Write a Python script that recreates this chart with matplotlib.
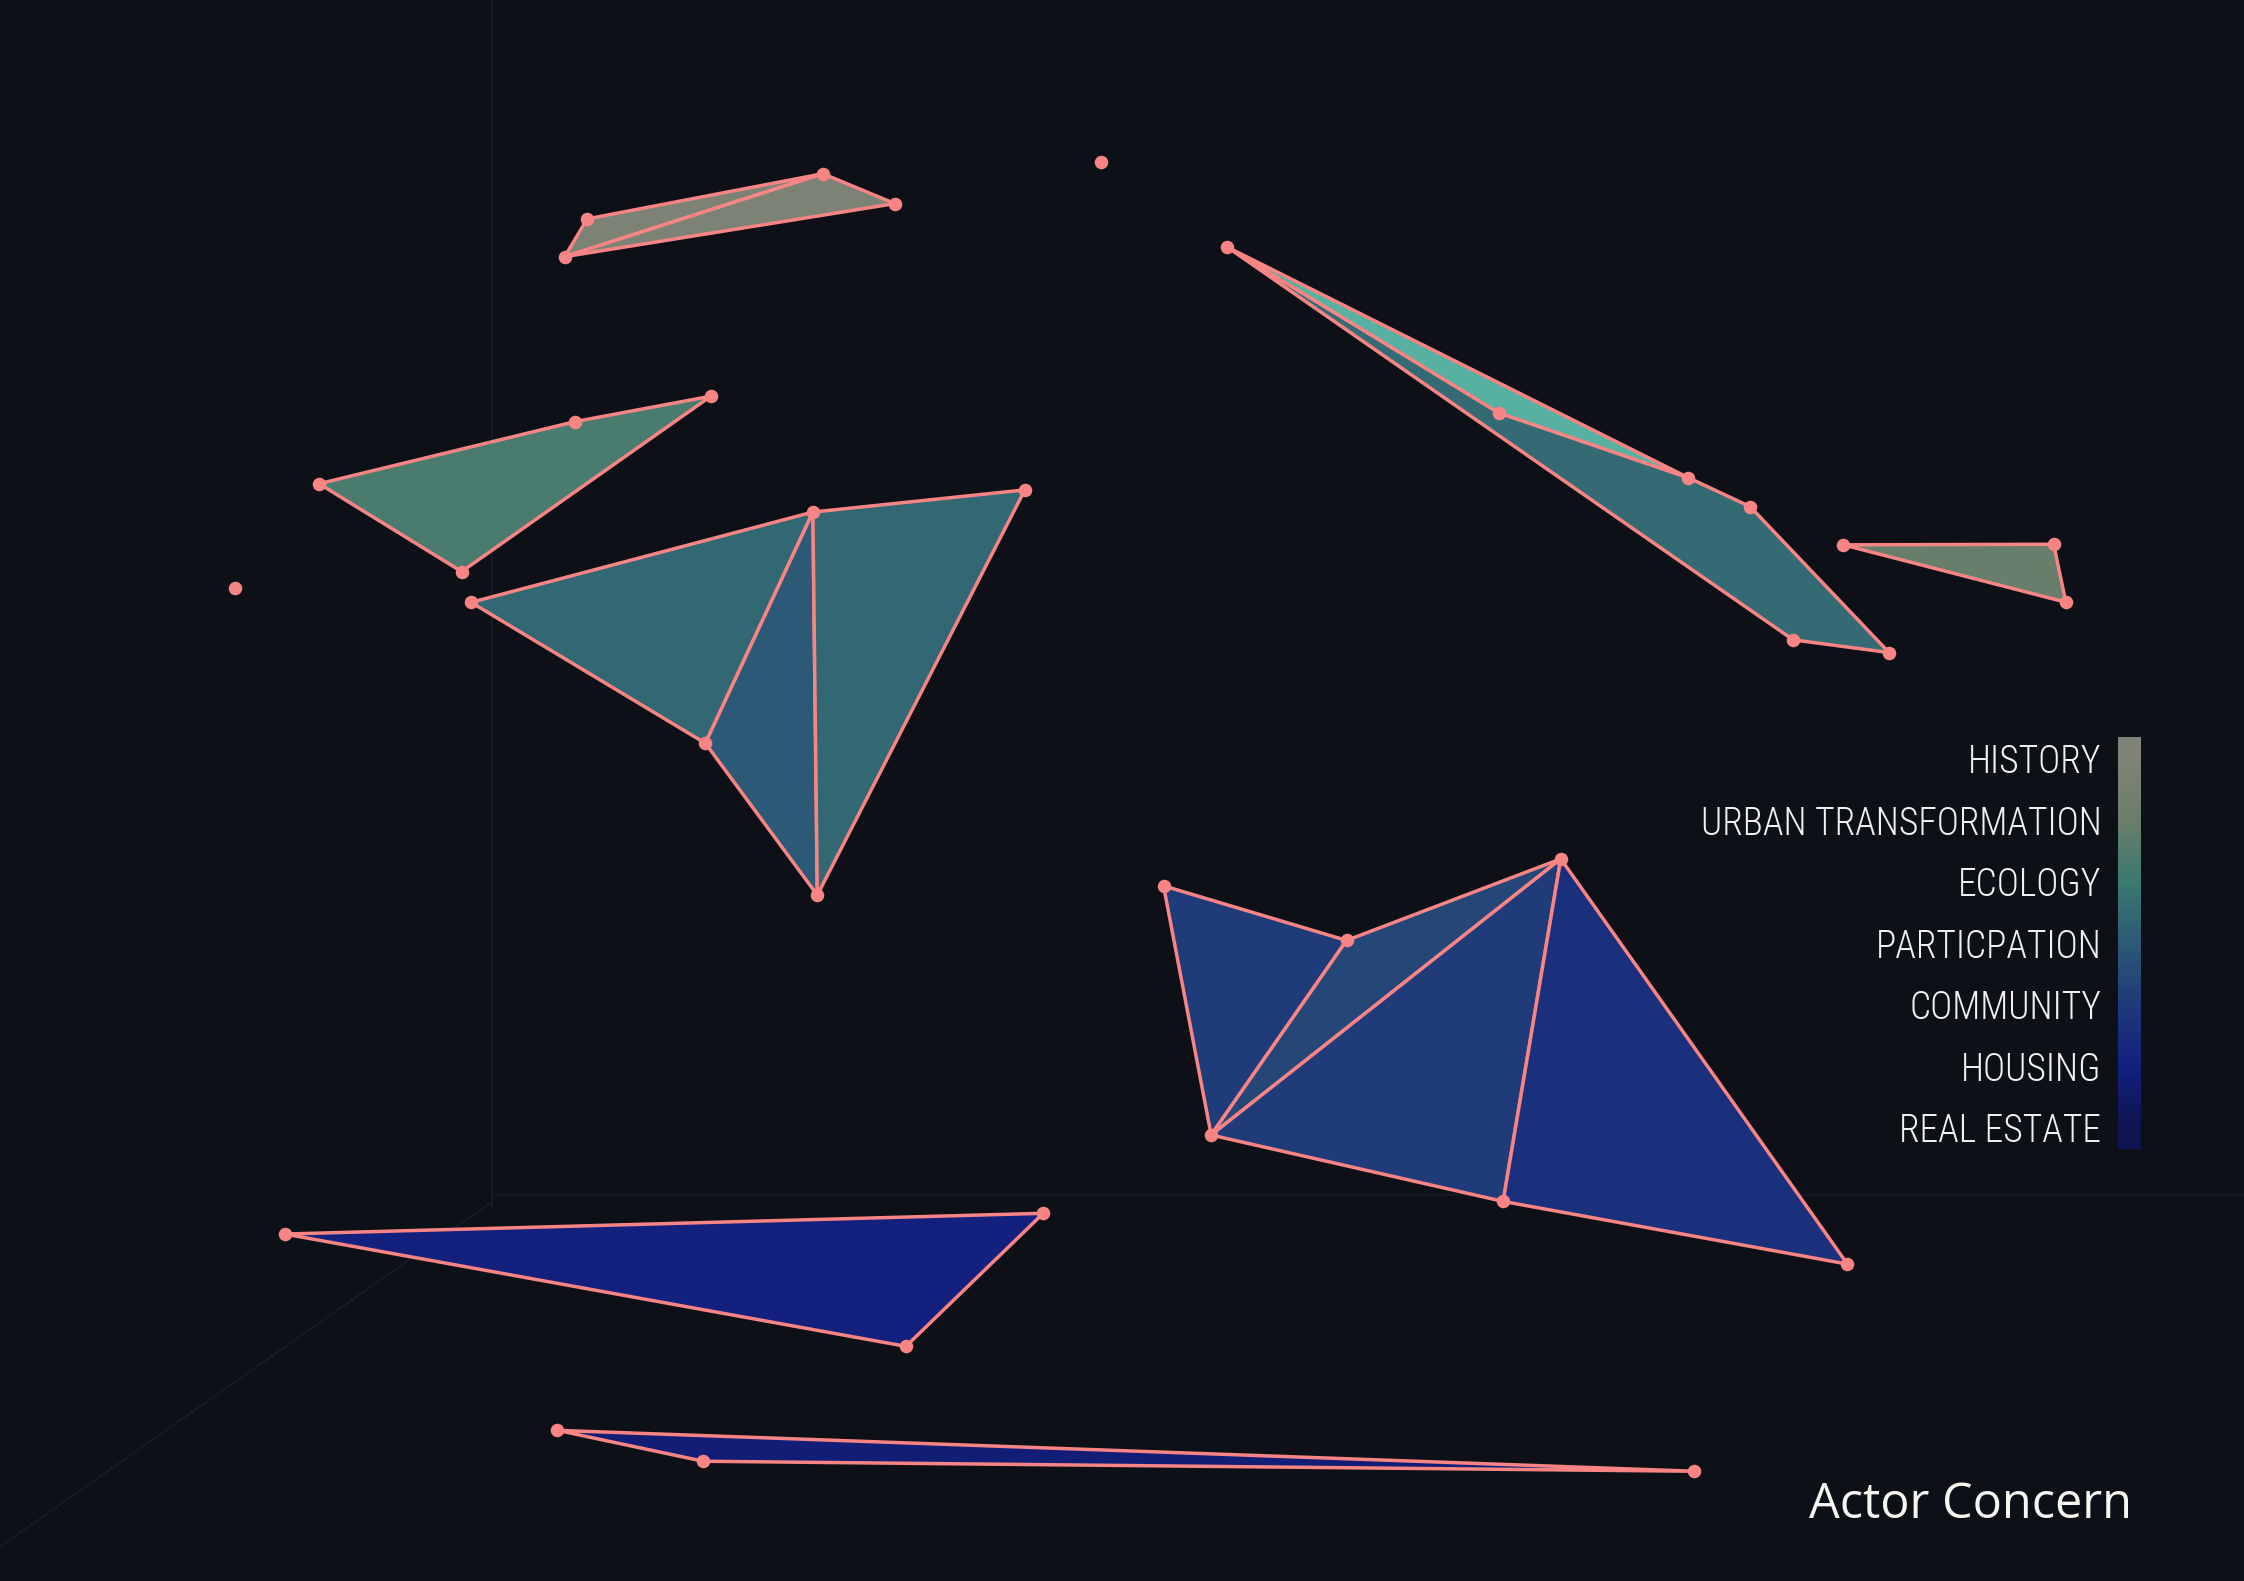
import numpy as np
import matplotlib
matplotlib.use("Agg")
import matplotlib.pyplot as plt
from matplotlib.collections import PolyCollection
from matplotlib.colors import LinearSegmentedColormap, Normalize, to_rgb

# projected vertex positions
px = [410.3, 575.0, 625.3, 394.6, 769.0, 223.0, 401.7, 496.7, 322.6, 164.3,
      329.2, 568.0, 716.1, 492.9, 571.1, 857.4, 1047.1, 1179.6, 1222.9, 1253.0,
      1320.0, 1288.0, 1435.0, 1443.5, 813.0, 940.9, 1090.6, 846.3, 1050.3, 1290.9,
      199.0, 729.0, 633.0, 389.5, 491.4, 1183.9]
py = [153.0, 121.4, 142.3, 179.4, 113.2, 338.1, 294.7, 276.9, 399.5, 410.8,
      421.0, 357.9, 342.4, 519.5, 625.6, 172.6, 288.4, 333.8, 354.1, 447.2,
      456.1, 380.8, 380.4, 420.9, 619.1, 657.3, 600.3, 793.3, 839.7, 883.5,
      862.5, 848.0, 941.0, 999.7, 1021.3, 1028.3]

# faces (vertex indices) and the concern value of each face
faces = [[3, 0, 1], [3, 1, 2],
         [5, 6, 7, 8],
         [10, 11, 13], [13, 11, 14], [11, 12, 14],
         [15, 16, 17, 18, 20, 19], [15, 16, 17],
         [21, 22, 23],
         [24, 25, 27], [25, 26, 27], [27, 26, 28], [26, 29, 28],
         [30, 31, 32],
         [33, 34, 35]]
concern = [5.8, 5.8, 4.3, 3.4, 3.0, 3.4, 3.5, 4.0, 4.9, 2.0, 2.4, 2.0, 1.6, 1.0, 0.8]
light = [1, 1, 1, 1, 1, 1, 1, 1.45, 1, 1, 1, 1, 1, 1, 1]

concern_labels = ["REAL ESTATE", "HOUSING", "COMMUNITY", "PARTICPATION",
                  "ECOLOGY", "URBAN TRANSFORMATION", "HISTORY"]

bg = "#0d1017"
edge = "#f88484"
cmap = LinearSegmentedColormap.from_list(
    "concern", ["#0e1552", "#13207f", "#1f3b7a", "#2c5a76",
                "#3b7a70", "#6a7e6a", "#808478"])
norm = Normalize(0, 6)

fig = plt.figure(figsize=(22.44, 15.81), dpi=100, facecolor=bg)
ax = fig.add_axes([0, 0, 1, 1])
ax.set_facecolor(bg)
ax.set_xlim(0, 1568)
ax.set_ylim(1105, 0)
ax.axis("off")

# faint pane edges of the 3d box
box = "#161a2b"
ax.plot([343.7, 343.7], [0, 844], color=box, lw=1.2, zorder=0)
ax.plot([343.7, 1568], [835, 835], color=box, lw=1.2, zorder=0)
ax.plot([343.7, 0], [840, 1081], color=box, lw=1.2, zorder=0)

px = np.array(px)
py = np.array(py)
verts = [np.column_stack([px[f], py[f]]) for f in faces]
cols = []
for v, l in zip(concern, light):
    c = np.array(to_rgb(cmap(norm(v)))) * l
    cols.append(np.clip(c, 0, 1))
pc = PolyCollection(verts, facecolors=cols, edgecolors=edge, linewidths=2.5,
                    joinstyle="round", zorder=2)
ax.add_collection(pc)
ax.scatter(px, py, s=95, color=edge, zorder=3, linewidths=0)

# colour bar legend
cax = fig.add_axes([1480 / 1568, 1 - 803 / 1105, 16 / 1568, 288 / 1105])
grad = np.linspace(-0.35, 6.35, 256)[:, None]
cax.imshow(grad, cmap=cmap, norm=norm, origin="lower", aspect="auto",
           extent=[0, 1, -0.35, 6.35])
cax.set_xticks([])
cax.set_yticks(range(7))
cax.set_yticklabels(concern_labels, color="#f2f2f2", fontsize=27,
                    family=["Roboto Condensed", "Open Sans"], fontweight="light")
cax.tick_params(axis="y", length=0, pad=12)
for s in cax.spines.values():
    s.set_visible(False)

fig.text(1490 / 1568, 1 - 1052 / 1105, "Actor Concern", color="#f7f7f2",
         fontsize=35, ha="right", va="center", family=["Open Sans", "DejaVu Sans"])

fig.savefig("out.png", dpi=100, facecolor=bg)
